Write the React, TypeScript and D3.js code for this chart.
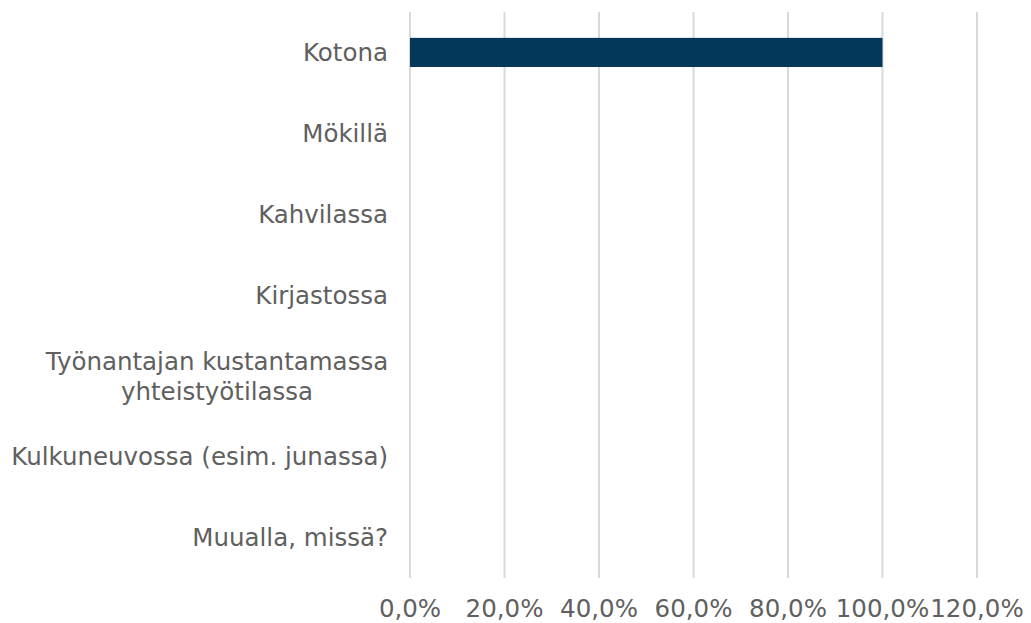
import React, { useEffect, useRef } from "react";
import * as d3 from "d3";

// categories (top to bottom) and their shares
const categories = [
  "Kotona",
  "Mökillä",
  "Kahvilassa",
  "Kirjastossa",
  "Työnantajan kustantamassa\nyhteistyötilassa",
  "Kulkuneuvossa (esim. junassa)",
  "Muualla, missä?",
];
const values = [1.0, 0, 0, 0, 0, 0, 0];
const xTicks = [0, 0.2, 0.4, 0.6, 0.8, 1.0, 1.2];

export default function App() {
  const ref = useRef<SVGSVGElement | null>(null);

  useEffect(() => {
    const font = "Verdana, 'DejaVu Sans', sans-serif";
    const textColor = "#606060";
    const fontSize = "24.5px";

    const svg = d3.select(ref.current);
    svg.selectAll("*").remove();

    const x = d3.scaleLinear().domain([0, 1.2]).range([410, 977]);
    const y = d3
      .scaleBand()
      .domain(categories)
      .range([12, 578])
      .paddingInner(0.64)
      .paddingOuter(0.32);

    // gridlines
    svg
      .append("g")
      .selectAll("line")
      .data(xTicks)
      .join("line")
      .attr("x1", (d) => x(d))
      .attr("x2", (d) => x(d))
      .attr("y1", 12)
      .attr("y2", 578)
      .attr("stroke", "#d9d9d9")
      .attr("stroke-width", 2);

    // bars
    svg
      .append("g")
      .selectAll("rect")
      .data(categories)
      .join("rect")
      .attr("x", x(0))
      .attr("y", (d) => y(d)!)
      .attr("width", (d, i) => x(values[i]) - x(0))
      .attr("height", y.bandwidth())
      .attr("fill", "#03385a");

    // category labels
    const labels = svg
      .append("g")
      .style("font-family", font)
      .style("font-size", fontSize)
      .attr("fill", textColor)
      .selectAll("text")
      .data(categories)
      .join("text")
      .attr("dominant-baseline", "central");

    labels.each(function (d) {
      const t = d3.select(this);
      const lines = d.split("\n");
      const cy = y(d)! + y.bandwidth() / 2;
      if (lines.length === 1) {
        t.attr("x", 388).attr("y", cy).attr("text-anchor", "end").text(d);
      } else {
        const cx = 217;
        t.attr("text-anchor", "middle");
        lines.forEach((line, i) => {
          t.append("tspan")
            .attr("x", cx)
            .attr("y", cy + (i - (lines.length - 1) / 2) * 30)
            .text(line);
        });
      }
    });

    // x axis labels
    const fmt = (v: number) => (v * 100).toFixed(1).replace(".", ",") + "%";
    svg
      .append("g")
      .style("font-family", font)
      .style("font-size", fontSize)
      .attr("fill", textColor)
      .attr("text-anchor", "middle")
      .selectAll("text")
      .data(xTicks)
      .join("text")
      .attr("x", (d) => x(d))
      .attr("y", 608)
      .attr("dominant-baseline", "central")
      .text(fmt);
  }, []);

  return (
    <svg
      ref={ref}
      width={1031}
      height={623}
      style={{ position: "absolute", left: 0, top: 0, background: "white" }}
    />
  );
}
